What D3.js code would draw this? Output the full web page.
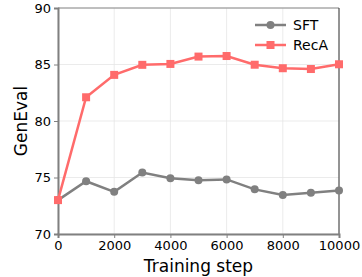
<!DOCTYPE html>
<html>
<head>
<meta charset="utf-8">
<script src="https://cdn.jsdelivr.net/npm/d3@7"></script>
<style>
body { margin: 0; background: #fff; }
text { font-family: "DejaVu Sans", sans-serif; }
</style>
</head>
<body>
<div id="chart"></div>
<script>
var steps = [0, 1000, 2000, 3000, 4000, 5000, 6000, 7000, 8000, 9000, 10000];
var sft = [73.0, 74.67, 73.73, 75.44, 74.94, 74.75, 74.83, 73.95, 73.45, 73.65, 73.85];
var reca = [73.0, 82.1, 84.08, 84.97, 85.05, 85.7, 85.75, 84.98, 84.67, 84.6, 85.02];
var xTicks = [0, 2000, 4000, 6000, 8000, 10000];
var yTicks = [70, 75, 80, 85, 90];

var margin = { top: 8, right: 23, bottom: 43, left: 58 };
var width = 362 - margin.left - margin.right,
    height = 277 - margin.top - margin.bottom;

var svg = d3.select('#chart').append('svg')
    .attr('width', 362)
    .attr('height', 277);

var g = svg.append('g')
    .attr('transform', 'translate(' + margin.left + ',' + margin.top + ')');

var x = d3.scaleLinear().domain([0, 10000]).range([0, width]);
var y = d3.scaleLinear().domain([70, 90]).range([height, 0]);

// grid
g.selectAll('.vgrid').data(xTicks).enter().append('line')
    .attr('x1', d => x(d)).attr('x2', d => x(d))
    .attr('y1', 0).attr('y2', height)
    .attr('stroke', '#e6e6e6').attr('stroke-width', 0.8);
g.selectAll('.hgrid').data(yTicks).enter().append('line')
    .attr('y1', d => y(d)).attr('y2', d => y(d))
    .attr('x1', 0).attr('x2', width)
    .attr('stroke', '#e6e6e6').attr('stroke-width', 0.8);

// top / right spines
g.append('line').attr('x1', 0).attr('x2', width).attr('y1', 0).attr('y2', 0)
    .attr('stroke', '#888').attr('stroke-width', 1);
g.append('line').attr('x1', width).attr('x2', width).attr('y1', 0).attr('y2', height)
    .attr('stroke', '#333').attr('stroke-width', 1);

var xAxis = g.append('g').attr('transform', 'translate(0,' + height + ')')
    .call(d3.axisBottom(x).tickValues(xTicks).tickSize(4).tickPadding(3).tickFormat(d3.format('d')));
var yAxis = g.append('g')
    .call(d3.axisLeft(y).tickValues(yTicks).tickSize(4).tickPadding(3));

[xAxis, yAxis].forEach(function (a) {
    a.select('.domain').attr('stroke', '#808080').attr('stroke-width', 2);
    a.selectAll('line').attr('stroke', '#808080').attr('stroke-width', 1);
    a.selectAll('text').attr('fill', '#000').style('font-size', '13px')
        .style('font-family', '"DejaVu Sans", sans-serif');
});

var line = d3.line().x((d, i) => x(steps[i])).y(d => y(d));

var series = [
    { name: 'SFT', values: sft, color: '#808080', marker: 'circle' },
    { name: 'RecA', values: reca, color: '#ff6b6b', marker: 'square' }
];

series.forEach(function (s) {
    g.append('path').datum(s.values)
        .attr('d', line)
        .attr('fill', 'none')
        .attr('stroke', s.color)
        .attr('stroke-width', 2.5);
    if (s.marker === 'circle') {
        g.selectAll('.m' + s.name).data(s.values).enter().append('circle')
            .attr('cx', (d, i) => x(steps[i])).attr('cy', d => y(d))
            .attr('r', 4).attr('fill', s.color);
    } else {
        g.selectAll('.m' + s.name).data(s.values).enter().append('rect')
            .attr('x', (d, i) => x(steps[i]) - 4).attr('y', d => y(d) - 4)
            .attr('width', 8).attr('height', 8).attr('fill', s.color);
    }
});

// legend
var legend = g.append('g').attr('transform', 'translate(' + (width - 84) + ',17)');
series.forEach(function (s, i) {
    var row = legend.append('g').attr('transform', 'translate(0,' + (i * 20) + ')');
    row.append('line').attr('x1', 0).attr('x2', 31).attr('y1', 0).attr('y2', 0)
        .attr('stroke', s.color).attr('stroke-width', 2.5);
    if (s.marker === 'circle') {
        row.append('circle').attr('cx', 15.5).attr('cy', 0).attr('r', 4).attr('fill', s.color);
    } else {
        row.append('rect').attr('x', 11.5).attr('y', -4).attr('width', 8).attr('height', 8).attr('fill', s.color);
    }
    row.append('text').attr('x', 38).attr('y', 0).attr('dy', '0.35em')
        .style('font-size', '14px').attr('fill', '#000').text(s.name);
});

// axis labels
svg.append('text')
    .attr('x', margin.left + width / 2).attr('y', 272)
    .attr('text-anchor', 'middle').style('font-size', '17px')
    .text('Training step');
svg.append('text')
    .attr('transform', 'translate(27,' + (margin.top + height / 2) + ') rotate(-90)')
    .attr('text-anchor', 'middle').style('font-size', '17px')
    .text('GenEval');
</script>
</body>
</html>
